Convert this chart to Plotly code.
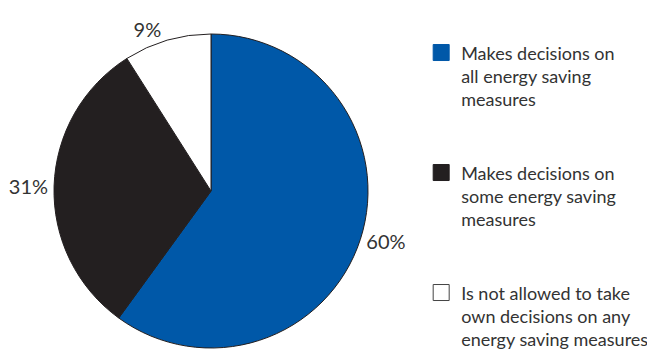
import plotly.graph_objects as go

labels = [
    "Makes decisions on<br>all energy saving<br>measures<br> <br> ",
    "Makes decisions on<br>some energy saving<br>measures<br> <br> ",
    "Is not allowed to take<br>own decisions on any<br>energy saving measures",
]
values = [60, 31, 9]
colors = ["#0058A8", "#231F20", "#FFFFFF"]

W, H = 655, 351
OFF = 8  # default page body margin
cx, cy, r = 211 - OFF, 191 - OFF, 157
border = ["#0058A8", "#231F20", "#444444"]

fig = go.Figure()
fig.add_trace(go.Pie(
    labels=labels,
    values=values,
    sort=False,
    direction="clockwise",
    rotation=0,
    marker=dict(colors=colors, line=dict(color="#231F20", width=1)),
    textposition="outside",
    texttemplate="%{value}%",
    textfont=dict(family="Lato", size=20, color="#333333"),
    domain=dict(x=[(cx - r) / W, (cx + r) / W], y=[1 - (cy + r) / H, 1 - (cy - r) / H]),
    showlegend=False,
))

# legend entries with larger square swatches
for lab, col, bc in zip(labels, colors, border):
    fig.add_trace(go.Scatter(
        x=[None], y=[None], mode="markers", name=lab,
        marker=dict(symbol="square", size=16, color=col, line=dict(color=bc, width=1)),
        showlegend=True, hoverinfo="skip",
    ))

fig.update_layout(
    width=W, height=H,
    margin=dict(l=0, r=0, t=0, b=0, autoexpand=False),
    paper_bgcolor="white",
    plot_bgcolor="white",
    xaxis=dict(visible=False),
    yaxis=dict(visible=False),
    font=dict(family="Lato", size=18, color="#333333"),
    legend=dict(
        x=0.6308, y=0.925, xanchor="left", yanchor="top",
        valign="top", itemclick=False, itemdoubleclick=False,
        font=dict(family="Lato", size=18, color="#333333"),
        tracegroupgap=0, itemwidth=30,
    ),
)

fig.write_html("out.html")
